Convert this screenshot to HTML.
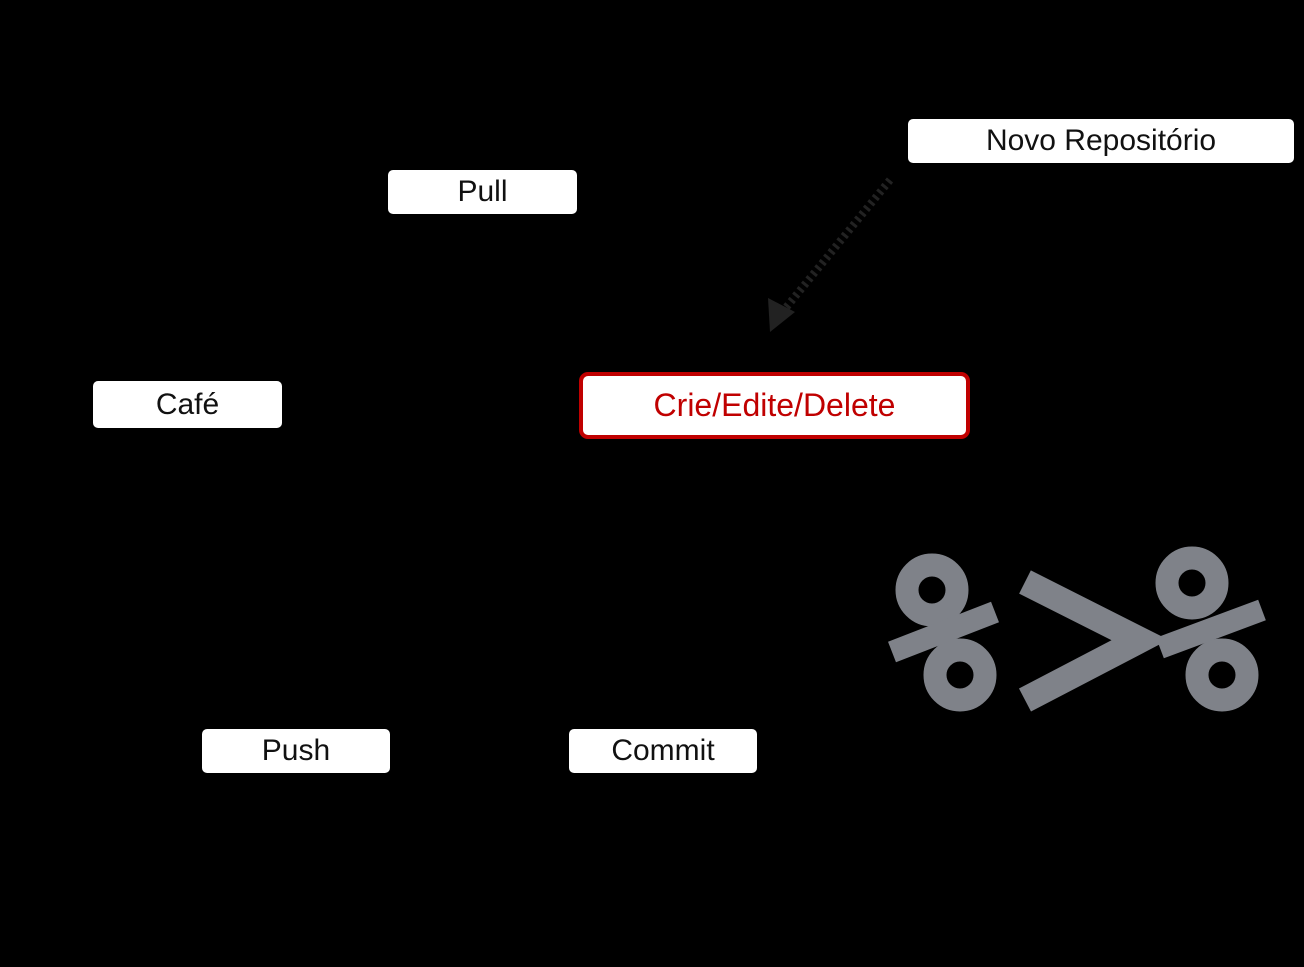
<!DOCTYPE html>
<html><head><style>
body{margin:0;width:1304px;height:967px;background:#000;position:relative;overflow:hidden;font-family:"Liberation Sans",sans-serif;}
.b{position:absolute;background:#fff;border-radius:5px;color:#111;font-size:30px;display:flex;align-items:center;justify-content:center;box-sizing:border-box;}
</style></head><body>
<div class="b" style="left:388px;top:170px;width:189px;height:44px;">Pull</div>
<div class="b" style="left:908px;top:119px;width:386px;height:44px;">Novo Repositório</div>
<div class="b" style="left:93px;top:381px;width:189px;height:47px;">Café</div>
<div class="b" style="left:579px;top:372px;width:391px;height:67px;border:4px solid #c00000;border-radius:9px;color:#c00000;font-size:32px;">Crie/Edite/Delete</div>
<div class="b" style="left:202px;top:729px;width:188px;height:44px;">Push</div>
<div class="b" style="left:569px;top:729px;width:188px;height:44px;">Commit</div>
<svg width="1304" height="967" style="position:absolute;left:0;top:0">
<line x1="890" y1="180" x2="780" y2="315" stroke="#222" stroke-width="8" stroke-dasharray="3 4"/>
<polygon points="770,332 768,298 795,312" fill="#222"/>
<g fill="none" stroke="#7f8289">
<circle cx="932" cy="590" r="25" stroke-width="23"/>
<circle cx="960" cy="675" r="25" stroke-width="23"/>
<line x1="892" y1="652" x2="995" y2="612" stroke-width="22"/>
<polyline points="1025,582 1140,640 1025,700" stroke-width="26" stroke-linejoin="miter"/>
<circle cx="1192" cy="583" r="25" stroke-width="23"/>
<circle cx="1222" cy="675" r="25" stroke-width="23"/>
<line x1="1160" y1="648" x2="1262" y2="610" stroke-width="22"/>
</g>
</svg>
</body></html>
